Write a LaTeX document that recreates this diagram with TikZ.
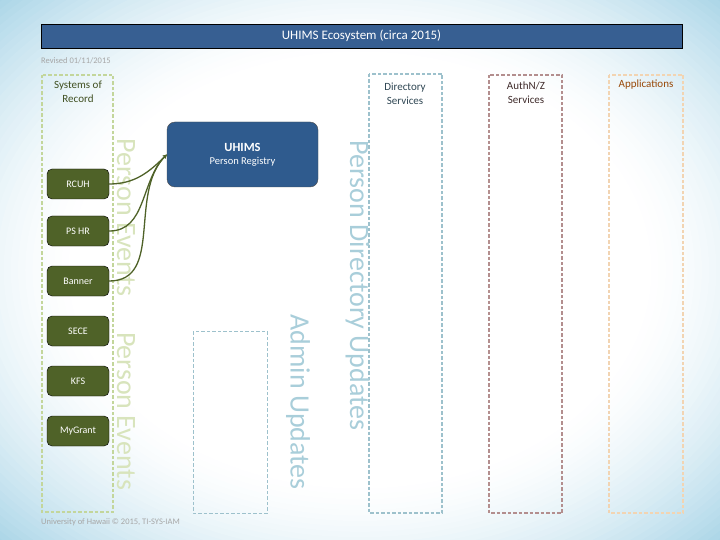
\documentclass[tikz,border=0pt]{standalone}
\usepackage{fontspec}
\setmainfont{Carlito}
\usetikzlibrary{arrows.meta}

\definecolor{bgblue}{HTML}{A6D3E6}
\definecolor{titleblue}{HTML}{375F92}
\definecolor{uhimsblue}{HTML}{2F5B8E}
\definecolor{sorgreen}{HTML}{4F6228}
\definecolor{sorline}{HTML}{C3D69B}
\definecolor{sorword}{HTML}{D8E4BC}
\definecolor{sortext}{HTML}{3F4F20}
\definecolor{dirline}{HTML}{9DC1CC}
\definecolor{dirword}{HTML}{A9CEDA}
\definecolor{dirtext}{HTML}{2F4653}
\definecolor{authline}{HTML}{B38E8E}
\definecolor{authtext}{HTML}{3F2B2B}
\definecolor{appline}{HTML}{F2D4B2}
\definecolor{apptext}{HTML}{984807}
\definecolor{notegrey}{HTML}{A6A6A6}

\begin{document}
\begin{tikzpicture}[%
            x=1pt, y=-1pt,
            lane/.style={draw, line width=1.2pt, dash pattern=on 3.5pt off 2pt},
            lanetext/.style={align=center, font=\fontsize{11}{13.5}\selectfont},
            sysnode/.style={shape=rectangle, rounded corners=5pt, draw=black,
                fill=sorgreen, text=white, minimum width=62pt, minimum height=30pt,
                inner sep=0pt, font=\fontsize{10}{12}\selectfont},
            bigword/.style={rotate=-90, anchor=base, inner sep=0pt,
                font=\fontsize{28}{29}\selectfont},
            note/.style={anchor=west, inner sep=0pt, text=notegrey,
                font=\fontsize{8.5}{10}\selectfont},
            feed/.style={draw=sorgreen, line width=1.3pt, -{Stealth[length=4pt,width=4pt]}}
    ]
    \useasboundingbox (0,0) rectangle (720,540);

    % background
    \begin{scope}
        \clip (0,0) rectangle (720,540);
        \fill [bgblue] (0,0) rectangle (720,540);
        \foreach \i in {0,...,32} {
            \pgfmathsetmacro{\k}{1.45-0.02*\i}
            \pgfmathsetmacro{\p}{100*((\k-0.8)/0.65)^1.5}
            \fill [bgblue!\p!white] (360,270) ellipse [x radius=360*\k, y radius=270*\k];
        }
    \end{scope}

    % title and notes
    \node [draw=black, fill=titleblue, text=white, minimum width=641pt,
        minimum height=24pt, inner sep=0pt, font=\fontsize{13}{14}\selectfont]
        (title) at (361.5,36) {UHIMS Ecosystem (circa 2015)};
    \node [note] (revised) at (41,61)  {Revised 01/11/2015};
    \node [note] (footer)  at (41,522) {University of Hawaii \textcopyright{} 2015, TI-SYS-IAM};

    % lanes
    \draw [lane, sorline]  (42,75)  rectangle (113,512);
    \draw [lane, dirline]  (369,74) rectangle (442,513);
    \draw [lane, authline] (489,75) rectangle (562,513);
    \draw [lane, appline]  (609,75) rectangle (683,513);
    \draw [lane, dirline, line width=1pt] (193,331) rectangle (267,513);

    \node [lanetext, text=sortext]  (sorhead)  at (78,92)    {Systems of\\Record};
    \node [lanetext, text=dirtext]  (dirhead)  at (405,94)   {Directory\\Services};
    \node [lanetext, text=authtext] (authhead) at (526,92.5) {AuthN/Z\\Services};
    \node [lanetext, text=apptext]  (apphead)  at (646,85)   {Applications};

    % flow words
    \node [bigword, text=sorword] (eventsA) at (117,217.5) {Person Events};
    \node [bigword, text=sorword] (eventsB) at (117,411)   {Person Events};
    \node [bigword, text=dirword] (dirupd)  at (350,285.5) {Person Directory Updates};
    \node [bigword, text=dirword] (admupd)  at (290.5,402) {Admin Updates};

    % registry
    \node [shape=rectangle, rounded corners=8pt, draw=black!70, fill=uhimsblue,
        text=white, minimum width=151pt, minimum height=65pt, align=center]
        (uhims) at (242.5,154.5)
        {{\fontsize{12.5}{14}\selectfont\bfseries UHIMS}\\[1pt]
         {\fontsize{10.5}{12}\selectfont Person Registry}};

    % systems of record
    \foreach \n/\txt/\y in
        {rcuh/RCUH/184, pshr/PS HR/231, banner/Banner/281,
         sece/SECE/331, kfs/KFS/381, mygrant/MyGrant/431}
        \node [sysnode] (\n) at (78,\y) {\txt};

    \foreach \n in {rcuh,pshr,banner}
        \draw [feed] (\n.east) to[out=0, in=225] (uhims.west);
\end{tikzpicture}
\end{document}
